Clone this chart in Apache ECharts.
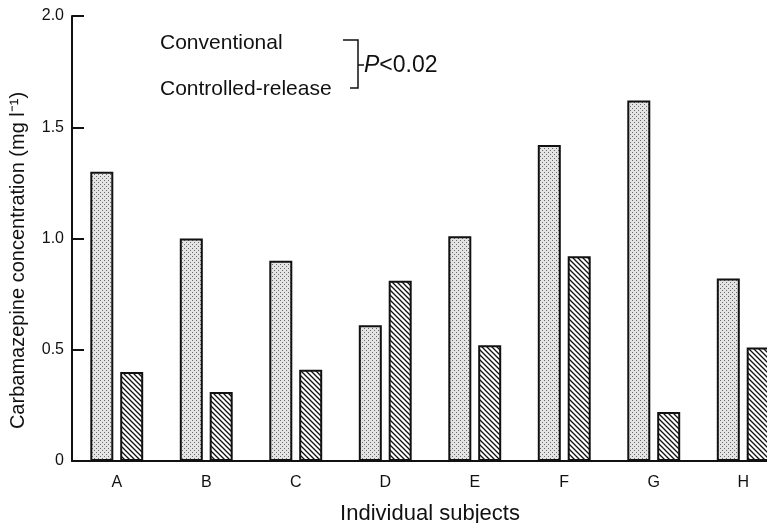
<!DOCTYPE html>
<html>
<head>
<meta charset="utf-8">
<script src="https://cdn.jsdelivr.net/npm/echarts@6/dist/echarts.min.js"></script>
<style>
html, body { margin: 0; padding: 0; background: #fff; }
#chart { width: 767px; height: 523px; }
</style>
</head>
<body>
<div id="chart"></div>
<script>
const subjects = ['A', 'B', 'C', 'D', 'E', 'F', 'G', 'H']
const conventional = [1.30, 1.00, 0.90, 0.61, 1.01, 1.42, 1.62, 0.82]
const controlled = [0.40, 0.31, 0.41, 0.81, 0.52, 0.92, 0.22, 0.51]
const yTicks = [0, 0.5, 1.0, 1.5, 2.0]

// stipple fill for conventional bars
function stipple() {
    let c = document.createElement('canvas')
    c.width = 4
    c.height = 4
    let ctx = c.getContext('2d')
    ctx.fillStyle = '#e4e4e4'
    ctx.fillRect(0, 0, 4, 4)
    ctx.fillStyle = '#6a6a6a'
    ctx.fillRect(0, 0, 1, 1)
    ctx.fillRect(2, 2, 1, 1)
    return c
}

// diagonal hatch for controlled-release bars
function hatch() {
    let c = document.createElement('canvas')
    c.width = 5
    c.height = 5
    let ctx = c.getContext('2d')
    ctx.fillStyle = '#fff'
    ctx.fillRect(0, 0, 5, 5)
    ctx.strokeStyle = '#111'
    ctx.lineWidth = 1.3
    ctx.beginPath()
    ctx.moveTo(-1, -1)
    ctx.lineTo(6, 6)
    ctx.moveTo(-1, 4)
    ctx.lineTo(1, 6)
    ctx.moveTo(4, -1)
    ctx.lineTo(6, 1)
    ctx.stroke()
    return c
}

let myChart = echarts.init(document.getElementById('chart'))
const font = 'Liberation Sans, Arial, sans-serif'
const options = {
    animation: false,
    textStyle: { fontFamily: font, color: '#111' },
    grid: {
        left: 72,
        top: 16,
        width: 716,
        bottom: 62,
        outerBoundsMode: 'none',
        containLabel: false
    },
    legend: {
        orient: 'vertical',
        left: 150,
        top: 28,
        icon: 'none',
        itemWidth: 0,
        itemGap: 25,
        textStyle: { fontSize: 21, color: '#111', fontFamily: font },
        data: ['Conventional', 'Controlled-release']
    },
    xAxis: {
        type: 'category',
        data: subjects,
        name: 'Individual subjects',
        nameLocation: 'middle',
        nameGap: 42,
        nameTextStyle: { fontSize: 22, color: '#111' },
        axisLine: { lineStyle: { color: '#111', width: 2 } },
        axisTick: { show: false },
        axisLabel: { fontSize: 16, color: '#111', margin: 14 }
    },
    yAxis: {
        type: 'value',
        min: 0,
        max: 2.0,
        interval: 0.5,
        name: 'Carbamazepine concentration (mg l⁻¹)',
        nameLocation: 'middle',
        nameGap: 44,
        nameTextStyle: { fontSize: 20, color: '#111', padding: [0, 44, 0, 0] },
        axisLine: { show: true, lineStyle: { color: '#111', width: 2 } },
        axisTick: { show: true, inside: true, length: 12, lineStyle: { color: '#111', width: 2 } },
        axisLabel: {
            fontSize: 16,
            color: '#111',
            margin: 8,
            formatter: v => yTicks.includes(v) ? (v === 0 ? '0' : v.toFixed(1)) : ''
        },
        splitLine: { show: false }
    },
    graphic: [
        {
            type: 'polyline',
            shape: { points: [[343, 40], [358, 40], [358, 88], [350, 88]] },
            style: { stroke: '#111', lineWidth: 1.5, fill: null }
        },
        {
            type: 'line',
            shape: { x1: 358, y1: 65, x2: 364, y2: 65 },
            style: { stroke: '#111', lineWidth: 1.5 }
        },
        {
            type: 'text',
            left: 364,
            top: 54,
            style: {
                text: '{i|P}<0.02',
                font: '23px Liberation Sans, Arial, sans-serif',
                fill: '#111',
                rich: { i: { fontStyle: 'italic', fontSize: 23, fontFamily: font } }
            }
        }
    ],
    series: [
        {
            name: 'Conventional',
            type: 'bar',
            data: conventional,
            barWidth: 23,
            barGap: '30%',
            itemStyle: {
                color: { image: stipple(), repeat: 'repeat' },
                borderColor: '#111',
                borderWidth: 2
            }
        },
        {
            name: 'Controlled-release',
            type: 'bar',
            data: controlled,
            barWidth: 23,
            itemStyle: {
                color: { image: hatch(), repeat: 'repeat' },
                borderColor: '#111',
                borderWidth: 2
            }
        }
    ]
}
myChart.setOption(options)
</script>
</body>
</html>
